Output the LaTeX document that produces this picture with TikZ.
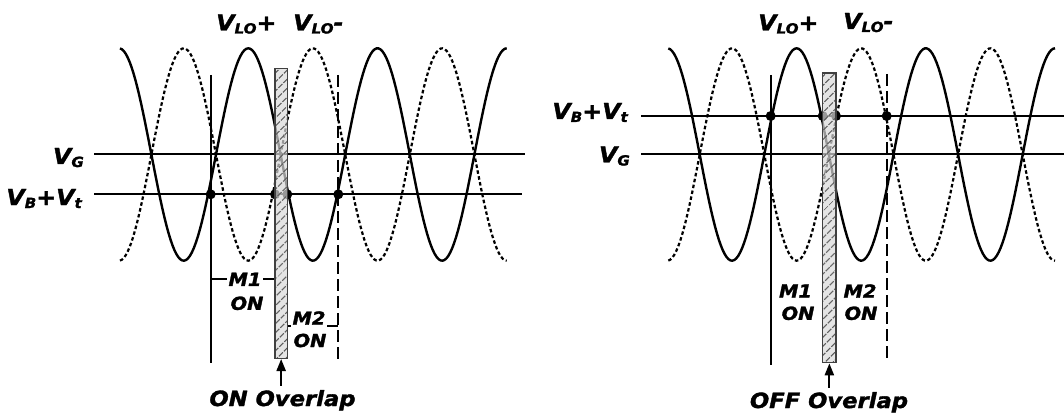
\documentclass[tikz,border=0pt]{standalone}
\usepackage{fontspec}
\newfontfamily\figfont[FakeStretch=1.08, FakeBold=1.6]{DejaVu Sans Bold Oblique}
\usetikzlibrary{arrows.meta,patterns.meta}
\newcommand{\lowsub}[1]{\raisebox{-3pt}{\fontsize{14}{14}\selectfont #1}}

\begin{document}
\begin{tikzpicture}[
  x=1pt, y=-1pt, >={Triangle[length=12pt,width=9pt]},
  every node/.style={font=\figfont\fontsize{22}{24}\selectfont, inner sep=1pt},
  level/.style={line width=2.2pt},
  lowave/.style={line width=2.4pt},
  lobar/.style={line width=2.2pt, dash pattern=on 3.5pt off 2.5pt},
  onedge/.style={line width=2pt},
  offedge/.style={line width=2pt, dash pattern=on 12pt off 5pt},
  overlap/.style={draw=gray!50!black, line width=1.2pt, inner sep=0pt,
                  preaction={fill=gray!30, fill opacity=0.7},
                  pattern={Lines[angle=45,distance=6.5pt,line width=1.4pt]},
                  pattern color=gray!70!black},
  dot/.style={circle, fill, inner sep=0pt, minimum size=10pt},
  mlbl/.style={font=\figfont\fontsize{18}{19}\selectfont, inner sep=1.5pt},
  tag/.style={line width=1.8pt},
  ovtxt/.style={font=\figfont\fontsize{21}{22}\selectfont, anchor=base},
]
\useasboundingbox (0,0) rectangle (1064,414);

% bias levels
\coordinate (vg1a) at (94,153.7);  \coordinate (vg1b) at (525,153.7);
\coordinate (vb1a) at (94,194.3);  \coordinate (vb1b) at (522,194.3);
\coordinate (vb2a) at (641,116);   \coordinate (vb2b) at (1064,116);
\coordinate (vg2a) at (641,153.7); \coordinate (vg2b) at (1064,153.7);
\draw[level] (vg1a) -- (vg1b);
\draw[level] (vb1a) -- (vb1b);
\draw[level] (vb2a) -- (vb2b);
\draw[level] (vg2a) -- (vg2b);

% LO waveforms
\foreach \dx in {0,548.3} {
  \begin{scope}[xshift=\dx]
    \draw[lowave] plot[domain=120:506.7, samples=200]
      (\x, {154.5-106.2*cos(2.78638*(\x-248.3))});
    \draw[lobar] plot[domain=120:506.7, samples=200]
      (\x, {154.5+106.2*cos(2.78638*(\x-248.3))});
  \end{scope}
}

% switching edges
\coordinate (s1a) at (210.7,75);  \coordinate (s1b) at (210.7,362.5);
\coordinate (d1a) at (338.3,75);  \coordinate (d1b) at (338.3,361.7);
\coordinate (s2a) at (770.7,75);  \coordinate (s2b) at (770.7,365);
\coordinate (d2a) at (886.7,74);  \coordinate (d2b) at (886.7,360);
\draw[onedge] (s1a) -- (s1b);
\draw[offedge] (d1a) -- (d1b);
\draw[onedge] (s2a) -- (s2b);
\draw[offedge] (d2a) -- (d2b);

\node[dot] (x1a) at (210.7,194.3) {};
\node[dot] (x1b) at (275,194.3) {};
\node[dot] (x1c) at (287.3,194.3) {};
\node[dot] (x1d) at (338.3,194.3) {};
\node[dot] (x2a) at (770.7,116) {};
\node[dot] (x2b) at (822.7,116) {};
\node[dot] (x2c) at (836,116) {};
\node[dot] (x2d) at (886.7,116) {};

\node[overlap, minimum width=12.3pt, minimum height=289.8pt] (ov1) at (281.15,213.4) {};
\node[overlap, minimum width=13.3pt, minimum height=289.7pt] (ov2) at (829.35,217.85) {};

% labels
\node[anchor=base east] (vg1) at (85,164) {V\lowsub{G}};
\node[anchor=base east] (vb1) at (83,205) {V\lowsub{B}+V\lowsub{t}};
\node[anchor=base east] (vb2) at (629,119) {V\lowsub{B}+V\lowsub{t}};
\node[anchor=base east] (vg2) at (631,162.5) {V\lowsub{G}};
\node[anchor=base west] (lop1) at (215,30.5) {V\lowsub{LO}+};
\node[anchor=base west] (lom1) at (292,30.5) {V\lowsub{LO}-};
\node[anchor=base west] (lop2) at (757,30.5) {V\lowsub{LO}+};
\node[anchor=base west] (lom2) at (842,29) {V\lowsub{LO}-};

\node[mlbl] (m1a) at (245,279.3) {M1};
\node[mlbl] (on1a) at (247,303.3) {ON};
\node[mlbl] (m2a) at (309,318) {M2};
\node[mlbl] (on2a) at (310,340.5) {ON};
\draw[tag] (s1a |- m1a.west) -- (m1a.west);
\draw[tag] (m1a.east) -- (ov1.west |- m1a.east);
\draw[tag] (ov1.east |- m2a.south) -- (m2a.south west);
\draw[tag] (m2a.south east) -- (d1a |- m2a.south);

\node[mlbl] (m1b) at (795.5,291) {M1};
\node[mlbl] (on1b) at (798,313.3) {ON};
\node[mlbl] (m2b) at (860,291) {M2};
\node[mlbl] (on2b) at (861,313.3) {ON};

\node[ovtxt] (ont) at (282.5,406) {ON Overlap};
\node[ovtxt] (offt) at (829,408) {OFF Overlap};
\draw[->, line width=2.2pt, shorten <=3pt] (ov1.south |- ont.north) -- (ov1.south);
\draw[->, line width=2.2pt, shorten <=3pt] (ov2.south |- offt.north) -- (ov2.south);
\end{tikzpicture}
\end{document}
